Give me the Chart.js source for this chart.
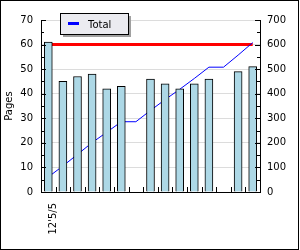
<!DOCTYPE html>
<html>
<head>
<meta charset="utf-8">
<script src="https://cdn.jsdelivr.net/npm/chart.js@4"></script>
<style>
  html, body { margin: 0; padding: 0; background: #fff; }
  #wrap { width: 300px; height: 250px; position: relative; }
</style>
</head>
<body>
<div id="wrap"><canvas id="chartPages" width="300" height="250"></canvas></div>
<script>
// Datos
const categorias = ['12\'5/5', '', '', '', '', '', '', '', '', '', '', '', '', '', ''];
const paginas = [61, 45, 47, 48, 42, 43, null, 46, 44, 42, 44, 46, null, 49, 51];
const totalAcumulado = [61, 106, 153, 201, 243, 286, 286, 332, 376, 418, 462, 508, 508, 557, 608];
const objetivo = [600, 600, 600, 600, 600, 600, 600, 600, 600, 600, 600, 600, 600, 600, 600];
const ticksIzq = [0, 10, 20, 30, 40, 50, 60, 70];
const ticksDer = [0, 100, 200, 300, 400, 500, 600, 700];

const FUENTE = "'DejaVu Sans', sans-serif";

// Marcas de eje hacia dentro + marco + leyenda
const extras = {
    id: 'extras',
    afterDraw(chart) {
        const ctx = chart.ctx;
        const area = chart.chartArea;
        const x = chart.scales.x;
        const y = chart.scales.y;
        const y1 = chart.scales.y1;
        ctx.save();
        ctx.strokeStyle = '#000';
        ctx.lineWidth = 1;
        ctx.beginPath();
        // izquierda
        for (let v = 0; v <= 70; v += 5) {
            const py = Math.round(y.getPixelForValue(v)) + 0.5;
            const len = v % 10 === 0 ? 5 : 3;
            ctx.moveTo(area.left, py);
            ctx.lineTo(area.left + len, py);
        }
        // derecha
        for (let v = 0; v <= 700; v += 50) {
            const py = Math.round(y1.getPixelForValue(v)) + 0.5;
            const len = v % 100 === 0 ? 5 : 3;
            ctx.moveTo(area.right, py);
            ctx.lineTo(area.right - len, py);
        }
        // abajo, entre categorias
        for (let i = 1; i < categorias.length; i++) {
            const px = Math.round((x.getPixelForValue(i - 1) + x.getPixelForValue(i)) / 2) + 0.5;
            ctx.moveTo(px, area.bottom);
            ctx.lineTo(px, area.bottom - 5);
        }
        ctx.stroke();

        // marco exterior
        ctx.strokeRect(0.5, 0.5, 298, 249);

        // leyenda
        const lx = 60, ly = 13, lw = 68, lh = 21;
        ctx.fillStyle = '#a0a0a0';
        ctx.fillRect(lx + 3, ly + 3, lw, lh);
        ctx.fillStyle = '#ebebf0';
        ctx.fillRect(lx, ly, lw, lh);
        ctx.strokeStyle = '#000';
        ctx.strokeRect(lx + 0.5, ly + 0.5, lw, lh);
        ctx.fillStyle = '#0000ff';
        ctx.fillRect(68, 22, 11, 3);
        ctx.fillStyle = '#000';
        ctx.font = '10px ' + FUENTE;
        ctx.textBaseline = 'alphabetic';
        ctx.fillText(chart.data.datasets[1].label, 88, 28);
        ctx.restore();
    }
};

new Chart(document.getElementById('chartPages'), {
    type: 'bar',
    data: {
        labels: categorias,
        datasets: [
            {
                type: 'bar',
                label: 'Pages',
                data: paginas,
                yAxisID: 'y',
                backgroundColor: '#add8e6',
                borderColor: '#000',
                borderWidth: 1,
                barThickness: 8,
                order: 1
            },
            {
                type: 'line',
                label: 'Total',
                data: totalAcumulado,
                yAxisID: 'y1',
                borderColor: '#0000ff',
                borderWidth: 1,
                pointRadius: 0,
                tension: 0,
                order: 2
            },
            {
                type: 'line',
                label: 'Objetivo',
                data: objetivo,
                yAxisID: 'y1',
                borderColor: '#ff0000',
                borderWidth: 3,
                pointRadius: 0,
                order: 3
            }
        ]
    },
    options: {
        responsive: false,
        animation: false,
        layout: { padding: { top: 20, left: 0, right: 0, bottom: 0 } },
        plugins: {
            legend: { display: false },
            tooltip: { enabled: false }
        },
        scales: {
            x: {
                offset: true,
                grid: { display: false, drawTicks: false },
                border: { color: '#000', width: 1 },
                ticks: {
                    color: '#000',
                    font: { family: FUENTE, size: 10 },
                    minRotation: 90,
                    maxRotation: 90,
                    autoSkip: false,
                    padding: 11,
                    labelOffset: 5
                },
                afterFit(scale) { scale.height = 58; }
            },
            y: {
                position: 'left',
                min: 0,
                max: 70,
                afterBuildTicks(scale) { scale.ticks = ticksIzq.map(v => ({ value: v })); },
                grid: { color: '#dcdcdc', drawTicks: false },
                border: { color: '#000', width: 1 },
                ticks: {
                    color: '#000',
                    font: { family: FUENTE, size: 10 },
                    padding: 8
                },
                title: {
                    display: true,
                    text: 'Pages',
                    color: '#000',
                    font: { family: FUENTE, size: 10 },
                    padding: { top: 3, bottom: 0 }
                },
                afterFit(scale) { scale.width = 41; }
            },
            y1: {
                position: 'right',
                min: 0,
                max: 700,
                afterBuildTicks(scale) { scale.ticks = ticksDer.map(v => ({ value: v })); },
                grid: { display: false, drawTicks: false },
                border: { color: '#000', width: 1 },
                ticks: {
                    color: '#000',
                    font: { family: FUENTE, size: 10 },
                    padding: 7
                },
                afterFit(scale) { scale.width = 40; }
            }
        }
    },
    plugins: [extras]
});
</script>
</body>
</html>
